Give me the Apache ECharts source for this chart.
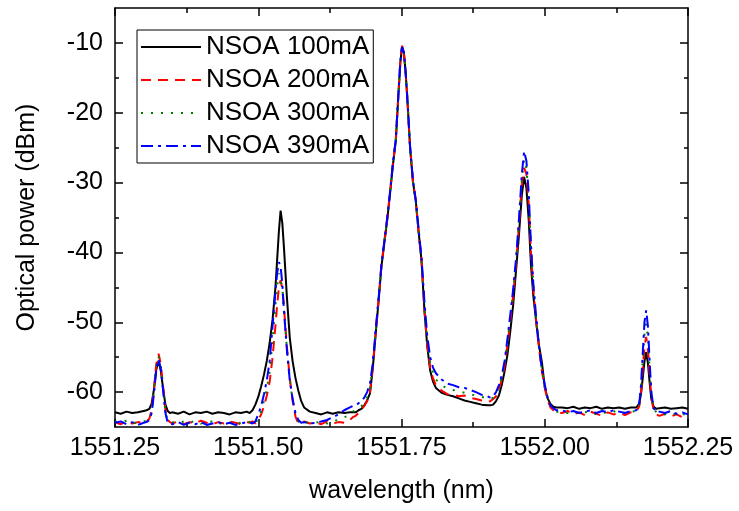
<!DOCTYPE html>
<html>
<head>
<meta charset="utf-8">
<script src="https://cdn.jsdelivr.net/npm/echarts@6/dist/echarts.min.js"></script>
<style>
html,body{margin:0;padding:0;background:#fff;}
#chart{width:739px;height:511px;}
</style>
</head>
<body>
<div id="chart"></div>
<script>
// Wavelength grid (nm)
var wavelength = [
  1551.25, 1551.26, 1551.27, 1551.28, 1551.29, 1551.30,
  1551.305, 1551.31, 1551.314, 1551.318, 1551.322, 1551.326, 1551.330, 1551.334, 1551.338, 1551.342, 1551.346,
  1551.35, 1551.36, 1551.37, 1551.38, 1551.39, 1551.40, 1551.41, 1551.42, 1551.43, 1551.44, 1551.45, 1551.46, 1551.47, 1551.48,
  1551.485, 1551.49, 1551.495, 1551.50, 1551.505, 1551.51, 1551.515, 1551.52, 1551.525, 1551.53, 1551.533, 1551.536, 1551.539, 1551.542, 1551.545, 1551.55, 1551.555, 1551.56, 1551.565, 1551.57, 1551.575, 1551.58, 1551.59,
  1551.60, 1551.61, 1551.62, 1551.63, 1551.64, 1551.65, 1551.66,
  1551.665, 1551.67, 1551.675, 1551.68, 1551.685, 1551.69, 1551.695, 1551.70, 1551.705, 1551.71, 1551.715, 1551.72, 1551.725, 1551.73, 1551.735, 1551.74, 1551.745, 1551.748, 1551.751, 1551.754, 1551.757, 1551.76, 1551.765, 1551.77, 1551.775, 1551.78, 1551.785, 1551.79, 1551.795, 1551.80, 1551.805, 1551.81, 1551.82, 1551.83, 1551.84, 1551.85, 1551.86, 1551.87, 1551.88, 1551.89, 1551.90,
  1551.905, 1551.91, 1551.915, 1551.92, 1551.925, 1551.93, 1551.935, 1551.94, 1551.945, 1551.95, 1551.955, 1551.96, 1551.964, 1551.968, 1551.972, 1551.976, 1551.98, 1551.985, 1551.99, 1551.995, 1552.00, 1552.005, 1552.01, 1552.015, 1552.02,
  1552.03, 1552.04, 1552.05, 1552.06, 1552.07, 1552.08, 1552.09, 1552.10, 1552.11, 1552.12, 1552.13, 1552.14, 1552.15,
  1552.16, 1552.165, 1552.168, 1552.171, 1552.174, 1552.177, 1552.180, 1552.183, 1552.186, 1552.19, 1552.195,
  1552.20, 1552.21, 1552.22, 1552.23, 1552.24, 1552.25
];

// NSOA 100mA (dBm)
var p100 = [
  -62.9, -63.1, -62.8, -63.0, -62.9, -62.7,
  -62.6, -62.4, -61.6, -59.6, -56.8, -55.5, -57.0, -59.5, -61.8, -62.7, -63.0,
  -62.9, -63.1, -62.8, -63.2, -62.9, -63.0, -62.8, -63.1, -62.9, -63.0, -63.2, -62.9, -63.0, -62.8,
  -63.0, -62.6, -61.8, -60.7, -59.2, -57.5, -55.5, -52.9, -49.6, -45.0, -41.0, -37.0, -34.0, -35.8, -39.5, -46.4, -52.2, -55.6, -58.0, -59.8, -61.3, -62.2, -62.8,
  -63.0, -63.2, -62.9, -63.1, -62.9, -63.0, -62.9,
  -62.9, -62.9, -62.6, -62.4, -61.9, -61.2, -60.2, -56.5, -51.6, -47.0, -42.0, -38.7, -35.4, -31.6, -27.5, -24.1, -16.9, -12.8, -10.5, -11.3, -14.0, -17.8, -25.0, -29.9, -32.7, -37.2, -41.2, -48.3, -53.5, -56.9, -58.5, -59.4, -60.1, -60.4, -60.6, -60.9, -61.2, -61.4, -61.6, -61.8, -61.9,
  -61.9, -61.8, -61.3, -60.5, -59.0, -57.0, -54.6, -51.2, -47.4, -42.5, -37.5, -31.8, -29.2, -30.8, -35.3, -41.9, -46.2, -49.9, -53.3, -55.7, -59.3, -60.9, -61.7, -62.1, -62.2,
  -62.2, -62.3, -62.1, -62.4, -62.2, -62.3, -62.1, -62.4, -62.2, -62.3, -62.2, -62.4, -62.2,
  -62.2, -61.6, -60.3, -58.0, -55.6, -54.3, -55.8, -58.6, -61.0, -62.1, -62.4,
  -62.3, -62.2, -62.4, -62.3, -62.2, -62.4
];

// NSOA 200mA (dBm)
var p200 = [
  -64.3, -64.6, -64.2, -64.5, -64.3, -64.4,
  -64.2, -63.8, -62.5, -59.5, -56.0, -54.5, -56.0, -59.3, -62.6, -64.0, -64.3,
  -64.5, -64.2, -64.6, -64.3, -64.5, -64.1, -64.4, -64.6, -64.3, -64.5, -64.2, -64.4, -64.6, -64.3,
  -64.4, -64.2, -64.5, -64.0, -63.2, -62.0, -60.5, -58.5, -55.0, -50.5, -47.5, -45.0, -44.0, -45.2, -48.0, -53.5, -58.0, -61.3, -63.5, -64.5, -64.6, -64.2, -64.5,
  -64.3, -64.6, -64.2, -64.5, -64.3, -64.4, -64.0,
  -63.6, -63.4, -63.0, -62.5, -62.0, -61.3, -60.0, -56.3, -51.4, -46.8, -41.8, -38.5, -35.2, -31.4, -27.3, -23.9, -16.7, -12.6, -10.4, -11.2, -13.9, -17.7, -25.0, -29.9, -32.7, -37.1, -41.3, -48.2, -53.2, -56.5, -58.0, -59.0, -59.8, -60.3, -60.4, -60.6, -60.5, -60.8, -61.0, -61.2, -61.4,
  -61.3, -61.0, -60.6, -59.6, -58.2, -56.2, -53.2, -49.8, -46.0, -41.6, -36.2, -30.2, -27.9, -28.8, -33.0, -40.0, -45.2, -49.8, -53.8, -57.0, -59.3, -61.2, -62.2, -62.6, -62.9,
  -63.0, -62.7, -63.2, -62.9, -63.3, -62.8, -63.1, -63.4, -62.9, -63.2, -63.0, -63.3, -62.9,
  -62.8, -62.0, -60.0, -56.8, -53.5, -52.1, -53.8, -57.5, -60.8, -62.6, -63.2,
  -63.4, -63.1, -63.5, -63.2, -63.6, -63.9
];

// NSOA 300mA (dBm)
var p300 = [
  -64.2, -64.4, -64.1, -64.3, -64.5, -64.2,
  -64.1, -64.0, -62.8, -59.8, -56.4, -54.9, -56.4, -59.6, -62.8, -64.1, -64.3,
  -64.3, -64.5, -64.2, -64.4, -64.1, -64.5, -64.3, -64.2, -64.6, -64.3, -64.4, -64.2, -64.5, -64.3,
  -64.3, -64.0, -64.4, -63.8, -62.8, -61.2, -59.5, -57.0, -52.5, -47.5, -44.8, -43.0, -43.0, -45.0, -48.3, -53.8, -58.2, -61.2, -63.3, -64.2, -64.5, -64.3, -64.4,
  -64.4, -64.2, -64.5, -64.1, -64.0, -63.6, -63.3,
  -62.8, -62.6, -62.3, -62.0, -61.6, -60.8, -59.5, -56.2, -51.3, -46.8, -41.8, -38.5, -35.2, -31.4, -27.3, -23.9, -16.8, -12.7, -10.5, -11.3, -13.9, -17.7, -25.0, -29.9, -32.7, -37.1, -41.3, -47.9, -52.7, -55.8, -57.2, -58.2, -59.0, -59.5, -59.7, -59.9, -60.1, -60.3, -60.5, -60.7, -60.9,
  -61.0, -60.8, -60.3, -59.3, -57.9, -55.8, -52.8, -49.3, -45.6, -41.2, -35.7, -29.5, -26.7, -27.9, -32.2, -39.5, -44.8, -49.5, -53.6, -56.9, -59.1, -61.0, -62.0, -62.5, -62.8,
  -62.8, -63.0, -62.7, -63.1, -62.9, -62.8, -63.2, -62.9, -63.0, -62.7, -63.1, -62.9, -62.8,
  -62.7, -61.8, -59.5, -55.5, -51.8, -50.2, -52.0, -56.5, -60.3, -62.4, -62.9,
  -63.0, -63.2, -62.9, -63.3, -63.1, -63.4
];

// NSOA 390mA (dBm)
var p390 = [
  -64.4, -64.2, -64.6, -64.3, -64.7, -64.4,
  -64.3, -64.0, -63.0, -60.2, -56.8, -55.3, -56.7, -59.8, -63.0, -64.4, -64.5,
  -64.6, -64.3, -64.7, -64.4, -64.6, -64.3, -64.7, -64.5, -64.3, -64.6, -64.4, -64.7, -64.5, -64.3,
  -64.3, -64.5, -64.2, -63.2, -62.0, -60.3, -58.3, -55.5, -50.5, -45.5, -43.0, -41.4, -42.0, -44.5, -48.5, -54.0, -58.3, -61.0, -63.0, -64.0, -64.4, -64.3, -64.5,
  -64.4, -64.2, -64.0, -63.6, -63.2, -62.6, -62.2,
  -62.0, -61.9, -61.6, -61.3, -60.8, -60.0, -58.8, -55.8, -51.0, -46.6, -41.7, -38.4, -35.1, -31.3, -27.2, -23.8, -16.7, -12.7, -10.6, -11.3, -13.9, -17.6, -24.8, -29.7, -32.5, -36.8, -40.8, -47.0, -52.0, -55.0, -56.5, -57.3, -58.2, -58.8, -59.0, -59.3, -59.4, -59.7, -60.0, -60.4, -60.6,
  -60.8, -60.6, -60.0, -59.0, -57.6, -55.5, -52.3, -48.8, -45.2, -40.8, -35.2, -28.8, -25.5, -26.9, -31.5, -39.0, -44.4, -49.3, -53.5, -56.8, -58.9, -60.8, -61.9, -62.3, -62.6,
  -62.6, -62.9, -62.7, -63.0, -62.8, -62.6, -63.0, -62.7, -62.9, -62.6, -62.8, -63.0, -62.7,
  -62.6, -61.6, -59.0, -54.5, -50.0, -48.3, -50.5, -55.5, -60.0, -62.3, -62.9,
  -62.8, -63.0, -62.7, -63.1, -62.9, -63.2
];

var seriesNames = ['NSOA 100mA', 'NSOA 200mA', 'NSOA 300mA', 'NSOA 390mA'];
var xTickLabels = [1551.25, 1551.50, 1551.75, 1552.00, 1552.25];
var yTickLabels = [-60, -50, -40, -30, -20, -10];
var yMinorTicks = [-55, -45, -35, -25, -15];

var FONT = 'Liberation Sans, Arial, sans-serif';

function pairs(vals) {
  return wavelength.map(function (w, i) { return [w, vals[i]]; });
}

var chart = echarts.init(document.getElementById('chart'), null, {renderer: 'canvas'});

var axisLineStyle = {show: true, lineStyle: {color: '#000', width: 1.5}};

function xAxisDef(pos, showLabels) {
  var a = {
    type: 'value', position: pos, gridIndex: 0,
    min: 1551.25, max: 1552.25, interval: 0.25,
    axisLine: axisLineStyle,
    axisTick: {show: true, inside: true, length: 8, lineStyle: {color: '#000', width: 1.5}},
    minorTick: {show: true, splitNumber: 2, length: 5, lineStyle: {color: '#000', width: 1.5}},
    splitLine: {show: false}, minorSplitLine: {show: false},
    axisLabel: {show: showLabels, fontSize: 25, color: '#000', fontFamily: FONT, margin: 9,
      formatter: function (v) { return v.toFixed(2); }}
  };
  if (showLabels) {
    a.name = 'wavelength (nm)';
    a.nameLocation = 'middle';
    a.nameGap = 52;
    a.nameTextStyle = {fontSize: 25, color: '#000', fontFamily: FONT};
  }
  return a;
}

function yAxisDef(pos, ticks, len, showLabels, showLine) {
  var a = {
    type: 'value', position: pos, gridIndex: 0,
    min: -65, max: -5,
    axisLine: showLine ? axisLineStyle : {show: false},
    axisTick: {show: true, inside: true, length: len, customValues: ticks,
      lineStyle: {color: '#000', width: 1.5}},
    splitLine: {show: false},
    axisLabel: {show: showLabels, customValues: ticks, fontSize: 25, color: '#000',
      fontFamily: FONT, margin: 12}
  };
  if (showLabels) {
    a.name = 'Optical power (dBm)';
    a.nameLocation = 'middle';
    a.nameGap = 75;
    a.nameTextStyle = {fontSize: 25, color: '#000', fontFamily: FONT};
  }
  return a;
}

var styles = [
  {color: '#000000', type: 'solid', width: 2},
  {color: '#ff0000', type: [10, 7], width: 2},
  {color: '#008000', type: [2, 8], width: 2},
  {color: '#0000ff', type: [12, 5, 3, 5], width: 2}
];
var dataSets = [p100, p200, p300, p390];

var option = {
  animation: false,
  backgroundColor: '#fff',
  grid: {left: 115, right: 51, top: 8, bottom: 84, outerBoundsMode: 'none'},
  legend: {
    data: seriesNames,
    orient: 'vertical',
    left: 137, top: 30,
    itemWidth: 60, itemHeight: 14, itemGap: 7,
    padding: [4, 4, 4, 3],
    borderColor: '#000', borderWidth: 1,
    itemStyle: {opacity: 0},
    textStyle: {fontSize: 26, color: '#000', fontFamily: FONT}
  },
  xAxis: [xAxisDef('bottom', true), xAxisDef('top', false)],
  yAxis: [
    yAxisDef('left', yTickLabels, 8, true, true),
    yAxisDef('right', yTickLabels, 8, false, true),
    yAxisDef('left', yMinorTicks, 4, false, false),
    yAxisDef('right', yMinorTicks, 4, false, false)
  ],
  series: seriesNames.map(function (n, k) {
    return {
      name: n, type: 'line', xAxisIndex: 0, yAxisIndex: 0,
      data: pairs(dataSets[k]),
      showSymbol: false, symbol: 'none',
      lineStyle: styles[k],
      itemStyle: {color: styles[k].color},
      z: 2 + k
    };
  })
};
chart.setOption(option);
</script>
</body>
</html>
